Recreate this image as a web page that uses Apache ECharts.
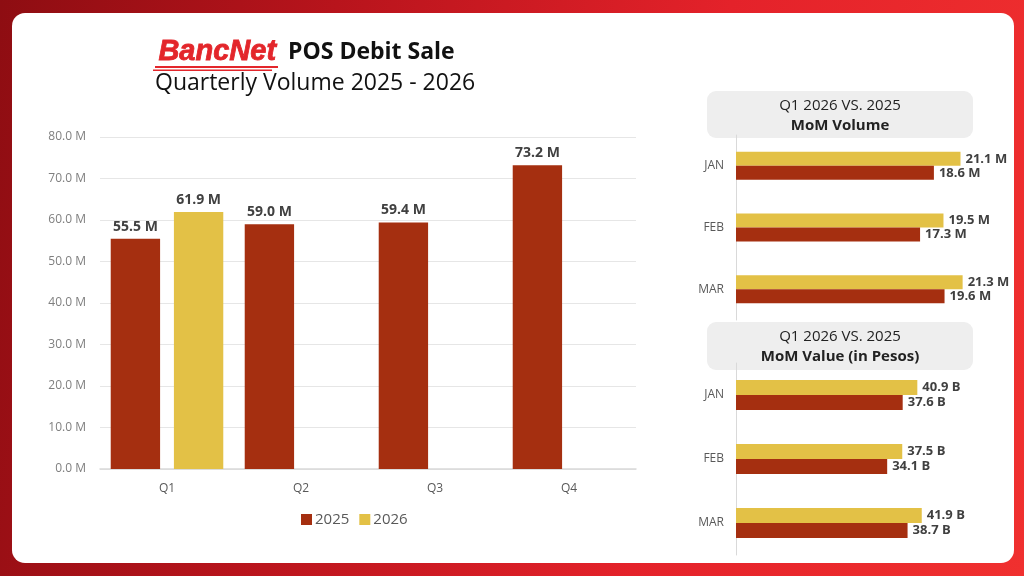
<!DOCTYPE html>
<html>
<head>
<meta charset="utf-8">
<script src="https://cdn.jsdelivr.net/npm/echarts@6/dist/echarts.min.js"></script>
<style>
  html, body { margin: 0; padding: 0; }
  body {
    width: 1024px; height: 576px; overflow: hidden; position: relative;
    background: linear-gradient(100deg, #8e0d12 0%, #b8141c 30%, #e4222a 65%, #f0302f 100%);
  }
  #card {
    position: absolute; left: 12px; top: 13px; width: 1002px; height: 550px;
    background: #fff; border-radius: 13px;
  }
  #chart { position: absolute; left: 0; top: 0; width: 1024px; height: 576px; }
</style>
</head>
<body>
<div id="card"></div>
<div id="chart"></div>
<script>
// quarterly volume (millions)
const quarters = ['Q1', 'Q2', 'Q3', 'Q4'];
const vol2025 = [55.5, 59.0, 59.4, 73.2];
const vol2026 = [61.9, null, null, null];

// month on month, Q1
const months = ['JAN', 'FEB', 'MAR'];
const momVol2026 = [21.1, 19.5, 21.3];   // M
const momVol2025 = [18.6, 17.3, 19.6];
const momVal2026 = [40.9, 37.5, 41.9];   // B pesos
const momVal2025 = [37.6, 34.1, 38.7];

const RED = '#a52f10';
const YEL = '#e3c146';
const FONT = '"Open Sans", "Noto Sans", sans-serif';

const chart = echarts.init(document.getElementById('chart'));

const hLabel = (unit) => ({
  show: true, position: 'right', distance: 5,
  fontFamily: FONT, fontSize: 13, fontWeight: 'bold', color: '#404040',
  formatter: p => p.value.toFixed(1) + ' ' + unit
});

const option = {
  animation: false,
  textStyle: { fontFamily: FONT },
  legend: {
    data: ['2025', '2026'],
    left: 296, top: 507,
    itemWidth: 11, itemHeight: 11, itemGap: 10,
    icon: 'rect',
    textStyle: { fontSize: 15, color: '#595959', fontFamily: FONT, padding: [0, 0, 0, -2] }
  },
  grid: [
    { left: 100, right: 388, top: 137, bottom: 107 },
    { left: 736, right: 22, top: 135, bottom: 256 },
    { left: 736, right: 22, top: 363, bottom: 21 }
  ],
  xAxis: [
    {
      gridIndex: 0, type: 'category', data: quarters,
      axisLine: { lineStyle: { color: '#d9d9d9', width: 1.5 } },
      axisTick: { show: false },
      axisLabel: { color: '#595959', fontSize: 12, margin: 14 }
    },
    {
      gridIndex: 1, type: 'value', min: 0, max: 25,
      show: false
    },
    {
      gridIndex: 2, type: 'value', min: 0, max: 60,
      show: false
    }
  ],
  yAxis: [
    {
      gridIndex: 0, type: 'value', min: 0, max: 80, interval: 10,
      axisLabel: { color: '#7f7f7f', fontSize: 12, margin: 14, formatter: v => v.toFixed(1) + ' M' },
      splitLine: { lineStyle: { color: '#e6e6e6' } },
      axisLine: { show: false }, axisTick: { show: false }
    },
    {
      gridIndex: 1, type: 'category', data: months, inverse: true,
      axisLine: { lineStyle: { color: '#d9d9d9', width: 1 } },
      axisTick: { show: false },
      axisLabel: { color: '#595959', fontSize: 12, margin: 12 }
    },
    {
      gridIndex: 2, type: 'category', data: months, inverse: true,
      axisLine: { lineStyle: { color: '#d9d9d9', width: 1 } },
      axisTick: { show: false },
      axisLabel: { color: '#595959', fontSize: 12, margin: 12 }
    }
  ],
  series: [
    {
      name: '2025', type: 'bar', xAxisIndex: 0, yAxisIndex: 0,
      data: vol2025, itemStyle: { color: RED },
      barGap: '28%', barCategoryGap: '16%',
      label: {
        show: true, position: 'top', distance: 5,
        fontSize: 14, fontWeight: 'bold', color: '#404040',
        formatter: p => p.value.toFixed(1) + ' M'
      }
    },
    {
      name: '2026', type: 'bar', xAxisIndex: 0, yAxisIndex: 0,
      data: vol2026, itemStyle: { color: YEL },
      label: {
        show: true, position: 'top', distance: 5,
        fontSize: 14, fontWeight: 'bold', color: '#404040',
        formatter: p => p.value == null ? '' : p.value.toFixed(1) + ' M'
      }
    },
    {
      name: 'vol26', type: 'bar', xAxisIndex: 1, yAxisIndex: 1,
      data: momVol2026, itemStyle: { color: YEL },
      barWidth: 14, barGap: '0%', label: hLabel('M')
    },
    {
      name: 'vol25', type: 'bar', xAxisIndex: 1, yAxisIndex: 1,
      data: momVol2025, itemStyle: { color: RED },
      barWidth: 14, label: hLabel('M')
    },
    {
      name: 'val26', type: 'bar', xAxisIndex: 2, yAxisIndex: 2,
      data: momVal2026, itemStyle: { color: YEL },
      barWidth: 15, barGap: '0%', label: hLabel('B')
    },
    {
      name: 'val25', type: 'bar', xAxisIndex: 2, yAxisIndex: 2,
      data: momVal2025, itemStyle: { color: RED },
      barWidth: 15, label: hLabel('B')
    }
  ],
  graphic: [
    // logo + title
    {
      type: 'text', left: 158, top: 37,
      style: { text: 'BancNet', fontFamily: '"Liberation Sans", Arial, sans-serif', fontSize: 29,
        fontWeight: 900, fontStyle: 'italic', fill: '#e3262b', stroke: '#e3262b', lineWidth: 0.8 }
    },
    { type: 'rect', shape: { x: 155, y: 66, width: 123, height: 2 }, style: { fill: '#e3262b' } },
    { type: 'rect', shape: { x: 153, y: 69.5, width: 119, height: 1.5 }, style: { fill: '#e3262b' } },
    {
      type: 'text', left: 288, top: 41,
      style: { text: 'POS Debit Sale', fontFamily: FONT, fontSize: 23, fontWeight: 'bold', fill: '#111' }
    },
    {
      type: 'text', left: 155, top: 72,
      style: { text: 'Quarterly Volume 2025 - 2026', fontFamily: FONT, fontSize: 23, fill: '#111' }
    },
    // right panel headers
    { type: 'rect', shape: { x: 707, y: 91, width: 266, height: 47, r: 9 }, style: { fill: '#eeeeee' } },
    {
      type: 'text', x: 840, y: 106,
      style: { text: 'Q1 2026 VS. 2025', fontFamily: FONT, fontSize: 15, fill: '#222', align: 'center', verticalAlign: 'middle' }
    },
    {
      type: 'text', x: 840, y: 126,
      style: { text: 'MoM Volume', fontFamily: FONT, fontSize: 15, fontWeight: 'bold', fill: '#222', align: 'center', verticalAlign: 'middle' }
    },
    { type: 'rect', shape: { x: 707, y: 322, width: 266, height: 48, r: 9 }, style: { fill: '#eeeeee' } },
    {
      type: 'text', x: 840, y: 337,
      style: { text: 'Q1 2026 VS. 2025', fontFamily: FONT, fontSize: 15, fill: '#222', align: 'center', verticalAlign: 'middle' }
    },
    {
      type: 'text', x: 840, y: 357,
      style: { text: 'MoM Value (in Pesos)', fontFamily: FONT, fontSize: 15, fontWeight: 'bold', fill: '#222', align: 'center', verticalAlign: 'middle' }
    }
  ]
};

chart.setOption(option);
</script>
</body>
</html>
